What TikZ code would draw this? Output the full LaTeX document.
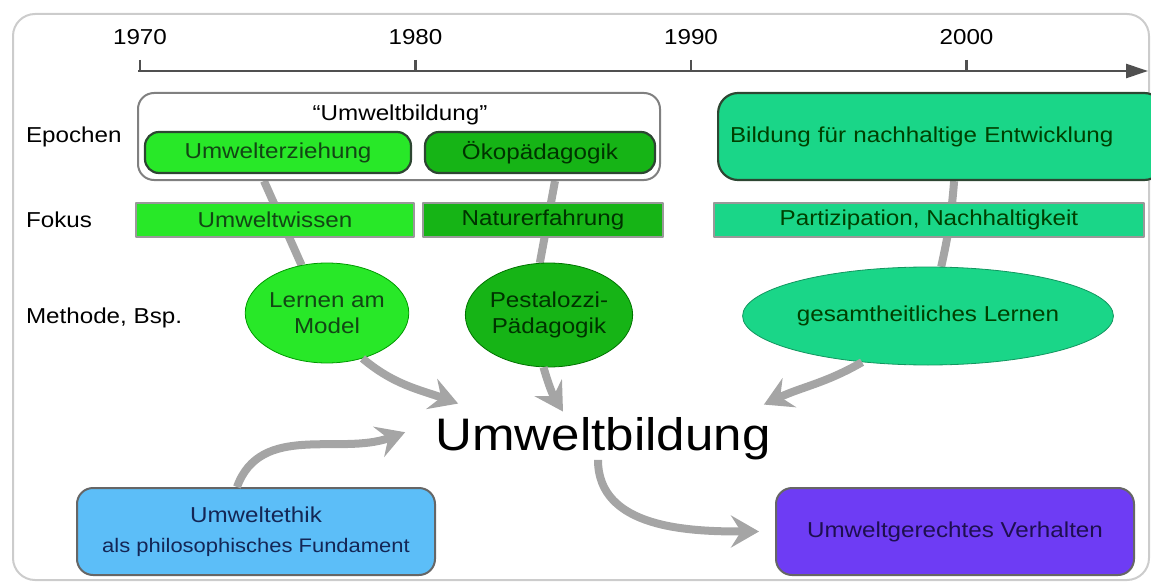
\documentclass[tikz,border=0pt]{standalone}
\usepackage{fontspec}
\setmainfont{Liberation Sans}[FakeStretch=1.12]
\usetikzlibrary{arrows.meta,shapes.geometric,backgrounds}
\definecolor{hellgruen}{RGB}{40,232,40}
\definecolor{dunkelgruen}{RGB}{22,180,22}
\definecolor{mint}{RGB}{26,214,136}
\definecolor{hellblau}{RGB}{92,190,248}
\definecolor{lila}{RGB}{110,60,244}
\definecolor{pfeilgrau}{RGB}{165,165,165}
\definecolor{achsgrau}{RGB}{80,80,80}
\definecolor{randgruen}{RGB}{45,70,50}
\definecolor{textgruen}{RGB}{18,70,20}
\tikzset{
	rahmen/.style={draw=black!20,line width=1pt,rounded corners=11pt},
	epoche/.style={draw=randgruen,line width=1.1pt,rounded corners=7pt,minimum height=20.5pt,text=textgruen},
	fokus/.style={draw=black!40,line width=.6pt,minimum height=17pt,text=textgruen},
	methode/.style={ellipse,inner sep=0pt,align=center,text=textgruen,font=\fontsize{10.8}{13}\selectfont},
	ziel/.style={draw=black!60,line width=1pt,rounded corners=8pt,minimum width=179pt,minimum height=43.5pt,align=center},
	verbindung/.style={draw=pfeilgrau,line width=4pt},
	pfeil/.style={verbindung,-{Stealth[length=14pt,width=16pt,inset=5pt]}}
}
\begin{document}
\begin{tikzpicture}[x=.5pt,y=-.5pt,line join=round,font=\fontsize{10.8}{12}\selectfont]
		\useasboundingbox (0,0) rectangle (1151,583);
		\clip (0,0) rectangle (1151,583);
		\draw[rahmen] (13,14) rectangle (1149,580);
		\coordinate (a0) at (138,71);
		\coordinate (a1) at (1148,71);
		\draw[achsgrau,line width=1.3pt,-{Triangle[length=11pt,width=7pt]}] (a0)--(a1);
		\foreach \jahr [count=\i from 0] in {1970,1980,1990,2000}{
			\draw[achsgrau,line width=1.3pt] (140+\i*275.5,60)--(140+\i*275.5,71);
			\node (j\jahr) at (140+\i*275.5,37) {\jahr};
		}
		\node[anchor=west] (zeile1) at (19,137) {Epochen};
		\node[anchor=west] (zeile2) at (19,220) {Fokus};
		\node[anchor=west] (zeile3) at (19,318) {Methode, Bsp.};
		\node[draw=black!50,line width=1pt,rounded corners=8pt,minimum width=261pt,minimum height=43.5pt] (gruppe) at (399,136.5) {};
		\node (titel) at (400,115) {“Umweltbildung”};
		\node[epoche,fill=hellgruen,minimum width=133pt] (erz) at (278,152.5) {Umwelterziehung};
		\node[epoche,fill=dunkelgruen,minimum width=115pt,text=black!80!green] (oeko) at (540,152.5) {Ökopädagogik};
		\node[epoche,fill=mint,rounded corners=10pt,minimum height=43.5pt,text width=211pt,inner xsep=6pt,align=left,anchor=west,text=black!75!green] (bne) at (717,136.5) {Bildung für nachhaltige Entwicklung};
		\node[fokus,fill=hellgruen,minimum width=139pt] (wissen) at (275,220) {Umweltwissen};
		\node[fokus,fill=dunkelgruen,minimum width=120pt,text=black!80!green] (natur) at (543,220) {Naturerfahrung};
		\node[fokus,fill=mint,minimum width=215pt,text=black!75!green] (partizip) at (929,220) {Partizipation, Nachhaltigkeit};
		\node[methode,fill=hellgruen,draw=green!60!black,minimum width=75pt,minimum height=50pt] (lernen) at (327,313) {Lernen am\\Model};
		\node[methode,fill=dunkelgruen,draw=green!45!black,minimum width=78pt,minimum height=52pt,text=black!80!green] (pesta) at (549,315) {Pestalozzi-\\Pädagogik};
		\node[methode,fill=mint,draw=mint!70!black,minimum width=170pt,minimum height=49pt,text=black!75!green] (ganz) at (928,316) {gesamtheitliches Lernen};
		\node[anchor=base,inner sep=0pt,font=\fontsize{22.8}{26}\selectfont] (ub) at (603,450) {Umweltbildung};
		\node[ziel,fill=hellblau,text={rgb,255:red,20;green,38;blue,85}] (ethik) at (256,531.5) {Umweltethik\\[3pt]{\fontsize{9.8}{11}\selectfont als philosophisches Fundament}};
		\node[ziel,fill=lila,text={rgb,255:red,30;green,15;blue,80}] (verhalten) at (955,531.5) {Umweltgerechtes Verhalten};
		\begin{pgfonlayer}{background}
		\draw[verbindung] ([xshift=-7pt]erz.south |- gruppe.south)--(lernen.118);
		\draw[verbindung] ([xshift=7.5pt]oeko.south |- gruppe.south)--(pesta.100);
		\draw[verbindung] ([xshift=6.5pt]bne.south)to[bend left=4](ganz.75);
		\end{pgfonlayer}
		\draw[pfeil] (lernen.-52) to[out=-40,in=160] ([shift={(23,-13)}]ub.north west);
		\draw[pfeil] (pesta.-96) to[bend right=8] ([shift={(-40,-5)}]ub.north);
		\draw[pfeil] (ganz.-145) to[out=-150,in=25] ([shift={(-7,-12)}]ub.north east);
		\draw[pfeil] ([xshift=-9.5pt]ethik.north) to[out=70,in=200] ([shift={(-30,-6)}]ub.west);
		\draw[pfeil] ([xshift=-2.5pt]ub.south) to[out=-90,in=180] ([xshift=-8pt]verhalten.west);
		\end{tikzpicture}
\end{document}
